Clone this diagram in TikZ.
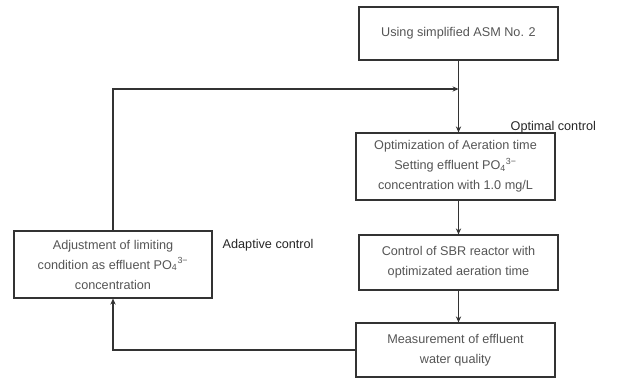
\documentclass[tikz,border=0pt]{standalone}
\usepackage{fontspec}
\setmainfont{Liberation Sans}
\usetikzlibrary{arrows.meta}
\definecolor{boxtext}{HTML}{555555}
\definecolor{linec}{HTML}{333333}
\tikzset{
  box/.style={draw=linec, line width=0.9pt, rectangle, align=center, text=boxtext,
    font=\fontsize{9.5}{15}\selectfont, inner sep=2pt},
  conn/.style={draw=linec, line width=1.3pt, -{Stealth[length=4.5pt,width=4pt]}},
  lbl/.style={text=black!85, font=\fontsize{9.5}{12}\selectfont}
}
\begin{document}
\begin{tikzpicture}[x=0.75pt,y=-0.75pt]
\useasboundingbox (0,0) rectangle (631,381);
\node[box, minimum width=199*0.75pt, minimum height=53*0.75pt] (top) at (458.5,33.5) {Using simplified ASM No. 2};
\node[box, minimum width=199*0.75pt, minimum height=67*0.75pt] (opt) at (455.5,166.5)
  {Optimization of Aeration time\\Setting effluent PO\textsubscript{4}\textsuperscript{3−}\\concentration with 1.0 mg/L};
\node[box, minimum width=199*0.75pt, minimum height=55*0.75pt] (ctl) at (458.5,262.5)
  {Control of SBR reactor with\\optimizated aeration time};
\node[box, minimum width=199*0.75pt, minimum height=54*0.75pt] (meas) at (455.5,350)
  {Measurement of effluent\\water quality};
\node[box, minimum width=198*0.75pt, minimum height=67*0.75pt] (adj) at (113,264.5)
  {Adjustment of limiting\\condition as effluent PO\textsubscript{4}\textsuperscript{3−}\\concentration};
\node[lbl, anchor=west] (optl) at (506,127) {Optimal control};
\node[lbl, anchor=west] (adpl) at (218,245) {Adaptive control};
\coordinate (j) at (top.south |- 0,89);
\draw[conn] (top.south) -- (top.south |- opt.north);
\draw[conn] (opt.south -| ctl.north) -- (ctl.north);
\draw[conn] (ctl.south) -- (ctl.south |- meas.north);
\draw[conn] (meas.west) -| (adj.south);
\draw[conn] (adj.north) |- (j);
\end{tikzpicture}
\end{document}
